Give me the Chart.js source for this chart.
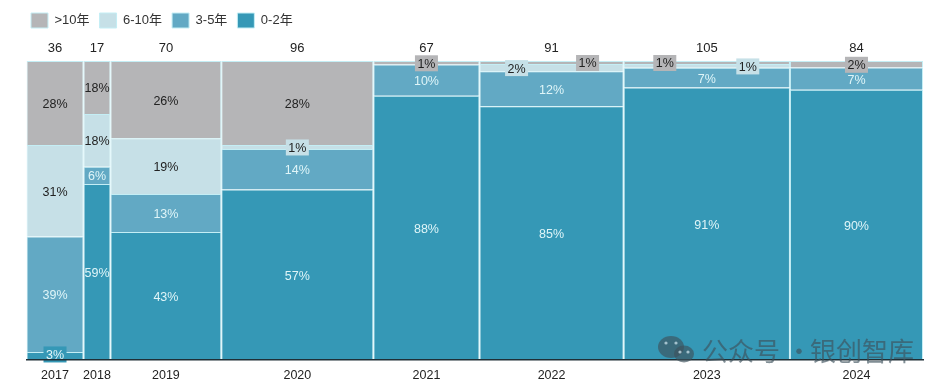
<!DOCTYPE html>
<html>
<head>
<meta charset="utf-8">
<style>
  html, body { margin: 0; background: #fff; }
  canvas { display: block; filter: blur(0.35px); }
</style>
<script src="https://cdn.jsdelivr.net/npm/chart.js@4/dist/chart.umd.min.js"></script>
</head>
<body>
<canvas id="chart" width="945" height="390"></canvas>
<script>
// Values. Column width follows the count on top.
const years = [2017, 2018, 2019, 2020, 2021, 2022, 2023, 2024];
const counts = [36, 17, 70, 96, 67, 91, 105, 84];
const seriesNames = ["0-2年", "3-5年", "6-10年", ">10年"];
const share0to2 = [2.7, 58.9, 42.8, 57.0, 88.3, 84.6, 91.3, 90.3];
const share3to5 = [38.6, 5.7, 12.7, 13.6, 10.4, 11.7, 6.6, 7.4];
const share6to10 = [30.6, 17.7, 18.7, 1.3, null, 2.4, 1.3, null];
const shareOver10 = [28.1, 17.7, 25.8, 28.1, 1.2, 1.0, 1.0, 2.2];

const shares = [share0to2, share3to5, share6to10, shareOver10];
const fillColors = ["#3598b6", "#62a9c4", "#c6e0e7", "#b5b5b7"];
const labelColors = ["#dff5f8", "#dff5f8", "#222222", "#222222"];
const lineColor = "#c4eef5";
const font = "'Liberation Sans', 'Noto Sans CJK SC', sans-serif";

// the thin slices get a small box behind the label, some are pushed sideways
const boxedLabels = {
  "2017-0": [0, -2],
  "2020-2": [0, 0],
  "2021-3": [0, 0],
  "2022-2": [-35, 0],
  "2022-3": [36, 0],
  "2023-3": [-42, 0],
  "2023-2": [41, 0],
  "2024-3": [0, 0],
};

// column start and middle on the count axis
let total = 0;
const starts = counts.map(function (c) {
  const s = total;
  total += c;
  return s;
});
const middles = counts.map((c, i) => starts[i] + c / 2);

function normalised(s, i) {
  const sum = shares.reduce((a, list) => a + (list[i] || 0), 0);
  return s[i] === null ? null : (s[i] / sum) * 100;
}

const datasets = seriesNames.map((name, k) => ({
  label: name,
  data: years.map((y, i) => ({ x: middles[i], y: normalised(shares[k], i) })),
  backgroundColor: fillColors[k],
  borderColor: lineColor,
  borderWidth: 1,
}));

// Chart.js has one bar width per chart, so stretch each bar to its count here
const mekkoWidths = {
  id: "mekkoWidths",
  afterDatasetsUpdate(chart) {
    chart.data.datasets.forEach((ds, k) => {
      const meta = chart.getDatasetMeta(k);
      meta.data.forEach((bar, i) => {
        const left = meta.xScale.getPixelForValue(starts[i]);
        const right = meta.xScale.getPixelForValue(starts[i] + counts[i]);
        bar.x = (left + right) / 2;
        bar.width = right - left;
      });
    });
  },
};

const sliceLabels = {
  id: "sliceLabels",
  afterDatasetsDraw(chart) {
    const ctx = chart.ctx;
    ctx.save();
    ctx.font = "12.5px " + font;
    ctx.textAlign = "center";
    ctx.textBaseline = "middle";
    shares.forEach((list, k) => {
      const meta = chart.getDatasetMeta(k);
      list.forEach((v, i) => {
        if (v === null) return;
        const bar = meta.data[i];
        const boxed = boxedLabels[years[i] + "-" + k];
        const x = bar.x + (boxed ? boxed[0] : 0);
        const y = (bar.y + bar.base) / 2 + 1.5 + (boxed ? boxed[1] : 0);
        if (boxed) {
          ctx.fillStyle = fillColors[k];
          ctx.fillRect(x - 11.5, y - 9, 23, 16);
        }
        ctx.fillStyle = labelColors[k];
        ctx.fillText(Math.round(v) + "%", x, y);
      });
    });
    ctx.restore();
  },
};

// the WeChat mark sitting over the lower right corner
const watermark = {
  id: "watermark",
  afterDraw(chart) {
    const ctx = chart.ctx;
    ctx.save();
    ctx.fillStyle = "rgba(62, 82, 92, 0.65)";
    ctx.beginPath();
    ctx.ellipse(671, 347, 13, 11, 0, 0, Math.PI * 2);
    ctx.fill();
    ctx.beginPath();
    ctx.ellipse(684, 354, 10, 8.5, 0, 0, Math.PI * 2);
    ctx.fill();
    ctx.font = "26px 'Noto Sans CJK SC', sans-serif";
    ctx.textAlign = "left";
    ctx.textBaseline = "middle";
    ctx.fillText("公众号", 702, 351);
    ctx.fillText("·", 786, 351);
    ctx.fillText("银创智库", 810, 351);
    // eyes
    ctx.fillStyle = "rgba(190, 215, 225, 0.8)";
    [[666, 343], [676, 343], [680, 352], [688, 352]].forEach(function (p) {
      ctx.beginPath();
      ctx.arc(p[0], p[1], 1.6, 0, Math.PI * 2);
      ctx.fill();
    });
    ctx.restore();
  },
};

function columnTicks(scale) {
  scale.ticks = middles.map((m) => ({ value: m }));
}

new Chart(document.getElementById("chart"), {
  type: "bar",
  data: { datasets: datasets },
  plugins: [mekkoWidths, sliceLabels, watermark],
  options: {
    responsive: false,
    animation: false,
    layout: { padding: { left: 21, right: 22, top: 3, bottom: 0 } },
    plugins: {
      tooltip: { enabled: false },
      legend: {
        position: "top",
        align: "start",
        reverse: true,
        labels: {
          boxWidth: 17,
          boxHeight: 15,
          padding: 10,
          color: "#333333",
          font: { family: font, size: 13 },
        },
      },
    },
    scales: {
      x: {
        type: "linear",
        position: "bottom",
        offset: false,
        stacked: true,
        min: 0,
        max: total,
        afterBuildTicks: columnTicks,
        afterFit(scale) { scale.height = 30; },
        grid: { display: false, drawTicks: false },
        border: { color: "#1f2f36", width: 1.5, z: 1 },
        ticks: {
          autoSkip: false,
          maxRotation: 0,
          padding: 8.5,
          color: "#222222",
          font: { family: font, size: 12.5 },
          callback: (v, i) => years[i],
        },
      },
      xTop: {
        type: "linear",
        axis: "x",
        position: "top",
        offset: false,
        min: 0,
        max: total,
        afterBuildTicks: columnTicks,
        afterFit(scale) { scale.height = 23; },
        grid: { display: false, drawTicks: false },
        border: { display: false },
        ticks: {
          autoSkip: false,
          maxRotation: 0,
          padding: 5,
          color: "#222222",
          font: { family: font, size: 13 },
          callback: (v, i) => counts[i],
        },
      },
      y: {
        stacked: true,
        min: 0,
        max: 100,
        afterFit(scale) { scale.width = 5.5; },
        grid: { display: false },
        border: { display: false },
        ticks: { display: false },
      },
    },
  },
});
</script>
</body>
</html>
